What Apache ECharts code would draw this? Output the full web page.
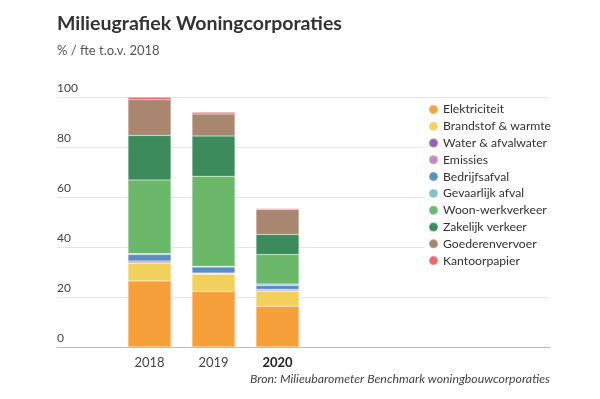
<!DOCTYPE html>
<html>
<head>
<meta charset="utf-8">
<script src="https://cdn.jsdelivr.net/npm/echarts@6/dist/echarts.min.js"></script>
<style>
  html, body { margin: 0; padding: 0; background: #fff; }
  #chart { width: 600px; height: 399px; }
</style>
</head>
<body>
<div id="chart"></div>
<script>
// 数据：年份与各类别占比 (% / fte t.o.v. 2018)
const years = ['2018', '2019', '2020'];
const seriesNames = [
    'Elektriciteit', 'Brandstof & warmte', 'Water & afvalwater', 'Emissies',
    'Bedrijfsafval', 'Gevaarlijk afval', 'Woon-werkverkeer', 'Zakelijk verkeer',
    'Goederenvervoer', 'Kantoorpapier'
];
const elektriciteit = [26.4, 22.2, 16.3];
const brandstof = [7.1, 6.9, 6.0];
const water = [0.4, 0.2, 0.4];
const emissies = [0.5, 0.3, 0.4];
const bedrijfsafval = [2.6, 2.4, 1.5];
const gevaarlijk = [0.4, 0.3, 0.6];
const woonWerk = [29.4, 36.0, 11.8];
const zakelijk = [17.8, 16.1, 8.0];
const goederen = [14.3, 8.8, 10.0];
const kantoorpapier = [1.0, 0.7, 0.4];
const yTicks = [0, 20, 40, 60, 80, 100];

const colors = ['#f6a03b', '#f2d05c', '#9c5bb5', '#c48bb9', '#5b8ec0',
                '#80c5c5', '#6bb86b', '#3c8b5d', '#a98670', '#ee6868'];

document.addEventListener('DOMContentLoaded', () => {
    const chart = echarts.init(document.getElementById('chart'));
    const font = 'Lato';
    const values = [elektriciteit, brandstof, water, emissies, bedrijfsafval,
                    gevaarlijk, woonWerk, zakelijk, goederen, kantoorpapier];

    const series = seriesNames.map((name, i) => ({
        name: name,
        type: 'bar',
        stack: 'total',
        xAxisIndex: 1,
        yAxisIndex: 1,
        barWidth: 43,
        data: values[i],
        itemStyle: { color: colors[i], borderColor: 'rgba(255,255,255,0.22)', borderWidth: 0.6 }
    }));

    const option = {
        color: colors,
        textStyle: { fontFamily: font },
        title: [
            {
                text: 'Milieugrafiek Woningcorporaties',
                left: 57, top: 14, padding: 0,
                textStyle: { fontFamily: font, fontSize: 19.5, fontWeight: 'bold', color: '#333' }
            },
            {
                text: '% / fte t.o.v. 2018',
                left: 57, top: 44, padding: 0,
                textStyle: { fontFamily: font, fontSize: 13, fontWeight: 'normal', color: '#555' }
            },
            {
                text: 'Bron: Milieubarometer Benchmark woningbouwcorporaties',
                right: 50, top: 373, padding: 0,
                textStyle: { fontFamily: font, fontSize: 12.3, fontWeight: 'normal', fontStyle: 'italic', color: '#444' }
            }
        ],
        grid: [
            { left: 57, right: 50, top: 97, bottom: 52 },
            { left: 117.5, width: 192, top: 97, bottom: 52 }
        ],
        legend: {
            data: seriesNames,
            orient: 'vertical',
            left: 425, top: 100,
            width: 123,
            padding: [2, 6, 6, 3],
            backgroundColor: '#fff',
            icon: 'circle',
            itemWidth: 9, itemHeight: 9,
            itemGap: 2,
            textStyle: { fontFamily: font, fontSize: 12.2, color: '#333', lineHeight: 14.8 }
        },
        xAxis: [
            {
                gridIndex: 0, type: 'value', min: 0, max: 1,
                axisLine: { show: true, lineStyle: { color: '#bbb', width: 1 } },
                axisTick: { show: false }, axisLabel: { show: false }, splitLine: { show: false }
            },
            {
                gridIndex: 1, type: 'category', data: years,
                axisLine: { show: false }, axisTick: { show: false },
                axisLabel: {
                    margin: 9, fontFamily: font, fontSize: 13, color: '#444',
                    formatter: v => v === '2020' ? '{b|' + v + '}' : v,
                    rich: { b: { fontFamily: font, fontSize: 13, fontWeight: 'bold', color: '#222' } }
                }
            }
        ],
        yAxis: [
            {
                gridIndex: 0, type: 'value', min: yTicks[0], max: yTicks[yTicks.length - 1], interval: 20,
                axisLine: { show: false }, axisTick: { show: false },
                splitLine: { lineStyle: { color: '#e6e6e6', width: 1 } },
                axisLabel: {
                    inside: true, margin: 0, align: 'left', verticalAlign: 'bottom',
                    padding: [0, 0, 3, 0],
                    fontFamily: font, fontSize: 12, color: '#444'
                }
            },
            {
                gridIndex: 1, type: 'value', min: 0, max: 100, show: false
            }
        ],
        series: series
    };

    chart.setOption(option);
});
</script>
</body>
</html>
